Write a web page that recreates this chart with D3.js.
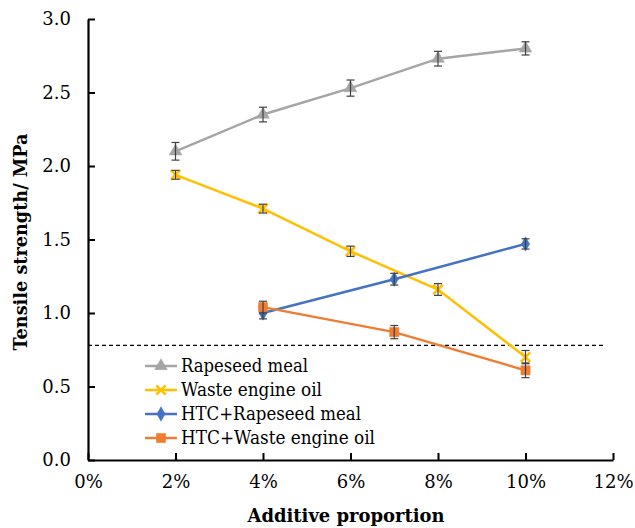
<!DOCTYPE html>
<html>
<head>
<meta charset="utf-8">
<script src="https://cdn.jsdelivr.net/npm/d3@7"></script>
<style>
  html, body { margin: 0; padding: 0; background: #fff; }
  svg { display: block; }
</style>
</head>
<body>
<svg id="chart" width="635" height="528"></svg>
<script>
// Tensile strength (MPa) against additive proportion
const seriesNames = ["Rapeseed meal", "Waste engine oil", "HTC+Rapeseed meal", "HTC+Waste engine oil"];
const seriesColors = ["#A5A5A5", "#FFC000", "#4472C4", "#ED7D31"];
const seriesSymbols = ["triangle", "cross", "diamond", "square"];

const rapeseedX = [0.02, 0.04, 0.06, 0.08, 0.10];
const rapeseedY = [2.10, 2.35, 2.53, 2.73, 2.80];
const rapeseedErr = [0.06, 0.05, 0.055, 0.05, 0.045];

const oilX = [0.02, 0.04, 0.06, 0.08, 0.10];
const oilY = [1.94, 1.71, 1.42, 1.16, 0.70];
const oilErr = [0.03, 0.03, 0.035, 0.04, 0.045];

const htcRapeseedX = [0.04, 0.07, 0.10];
const htcRapeseedY = [1.00, 1.23, 1.47];
const htcRapeseedErr = [0.04, 0.04, 0.035];

const htcOilX = [0.04, 0.07, 0.10];
const htcOilY = [1.04, 0.87, 0.61];
const htcOilErr = [0.04, 0.045, 0.05];

const thresholdY = 0.78;
const thresholdXEnd = 0.118;

const xTicks = [0, 0.02, 0.04, 0.06, 0.08, 0.10, 0.12];
const yTicks = [0, 0.5, 1.0, 1.5, 2.0, 2.5, 3.0];

const xTitle = "Additive proportion";
const yTitle = "Tensile strength/ MPa";

const series = [
  { x: rapeseedX, y: rapeseedY, e: rapeseedErr },
  { x: oilX, y: oilY, e: oilErr },
  { x: htcRapeseedX, y: htcRapeseedY, e: htcRapeseedErr },
  { x: htcOilX, y: htcOilY, e: htcOilErr }
].map((s, i) => ({
  name: seriesNames[i], color: seriesColors[i], symbol: seriesSymbols[i],
  points: s.x.map((xv, j) => ({ x: xv, y: s.y[j], e: s.e[j] }))
}));

const svg = d3.select("#chart");
const serif = "DejaVu Serif";

const x = d3.scaleLinear().domain([0, 0.12]).range([88, 613]);
const y = d3.scaleLinear().domain([0, 3]).range([460, 19]);

// axes, ticks pointing inward
const xAxis = svg.append("g").attr("transform", `translate(0,${y(0)})`)
  .call(d3.axisBottom(x).tickValues(xTicks).tickFormat(d3.format(".0%"))
    .tickSizeInner(-7).tickSizeOuter(0).tickPadding(15));
const yAxis = svg.append("g").attr("transform", `translate(${x(0)},0)`)
  .call(d3.axisLeft(y).tickValues(yTicks).tickFormat(d3.format(".1f"))
    .tickSizeInner(-7).tickSizeOuter(0).tickPadding(17));

[xAxis, yAxis].forEach(g => {
  g.attr("font-family", serif).attr("font-size", 18);
  g.select(".domain").attr("stroke", "#000").attr("stroke-width", 2.2);
  g.selectAll(".tick line").attr("stroke", "#000").attr("stroke-width", 2);
  g.selectAll(".tick text").attr("fill", "#000");
});

// dashed reference line
svg.append("line")
  .attr("x1", x(0)).attr("x2", x(thresholdXEnd))
  .attr("y1", y(thresholdY)).attr("y2", y(thresholdY))
  .attr("stroke", "#000").attr("stroke-width", 1.3)
  .attr("stroke-dasharray", "4,3");

function symbolPath(kind) {
  if (kind === "triangle") return d3.symbol(d3.symbolTriangle, 70)();
  if (kind === "diamond") return d3.symbol(d3.symbolDiamond, 60)();
  if (kind === "square") return d3.symbol(d3.symbolSquare, 85)();
  return d3.symbol(d3.symbolX, 60)();
}
function drawMarker(g, s, cx, cy) {
  const p = g.append("path").attr("d", symbolPath(s.symbol))
    .attr("transform", `translate(${cx},${cy})`);
  if (s.symbol === "cross") {
    p.attr("fill", "none").attr("stroke", s.color).attr("stroke-width", 2.5);
  } else {
    p.attr("fill", s.color).attr("stroke", s.color).attr("stroke-width", 0.5);
  }
}

const line = d3.line().x(d => x(d.x)).y(d => y(d.y));

series.forEach(s => {
  const g = svg.append("g");
  g.append("path").datum(s.points).attr("d", line)
    .attr("fill", "none").attr("stroke", s.color).attr("stroke-width", 2.5);
  s.points.forEach(p => drawMarker(g, s, x(p.x), y(p.y)));
  // error bars
  s.points.forEach(p => {
    const cx = x(p.x), top = y(p.y + p.e), bot = y(p.y - p.e);
    const eb = g.append("g").attr("stroke", "#404040").attr("stroke-width", 1.2);
    eb.append("line").attr("x1", cx).attr("x2", cx).attr("y1", top).attr("y2", bot);
    eb.append("line").attr("x1", cx - 4).attr("x2", cx + 4).attr("y1", top).attr("y2", top);
    eb.append("line").attr("x1", cx - 4).attr("x2", cx + 4).attr("y1", bot).attr("y2", bot);
  });
});

// legend; each label is fitted to a fixed width so the serif face stays compact
const legendWidths = [127, 141, 180, 194];
const legend = svg.append("g");
series.forEach((s, i) => {
  const ly = 366 + i * 24;
  const row = legend.append("g");
  row.append("line").attr("x1", 145).attr("x2", 177).attr("y1", ly).attr("y2", ly)
    .attr("stroke", s.color).attr("stroke-width", 2.5);
  drawMarker(row, s, 161, ly);
  row.append("text").attr("x", 181).attr("y", ly).attr("dy", "0.36em")
    .attr("font-family", serif).attr("font-size", 18).attr("fill", "#000")
    .attr("textLength", legendWidths[i]).attr("lengthAdjust", "spacingAndGlyphs")
    .text(s.name);
});

// axis titles
svg.append("text").attr("x", 346).attr("y", 522).attr("text-anchor", "middle")
  .attr("font-family", serif).attr("font-size", 19).attr("font-weight", "bold")
  .attr("textLength", 197).attr("lengthAdjust", "spacingAndGlyphs")
  .text(xTitle);
svg.append("text").attr("transform", "translate(27,242) rotate(-90)")
  .attr("text-anchor", "middle")
  .attr("font-family", serif).attr("font-size", 19).attr("font-weight", "bold")
  .attr("textLength", 217).attr("lengthAdjust", "spacingAndGlyphs")
  .text(yTitle);
</script>
</body>
</html>
